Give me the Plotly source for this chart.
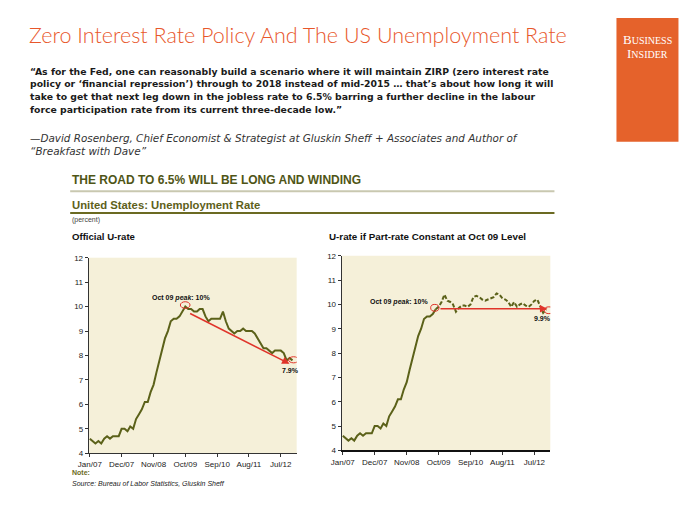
import pandas as pd
import plotly.graph_objects as go

# ---------------- data ----------------
months = pd.date_range("2007-01-01", "2012-11-01", freq="MS")

official_urate = [
    4.6, 4.5, 4.4, 4.5, 4.4, 4.6, 4.7, 4.6, 4.7, 4.7, 4.7, 5.0,   # 2007
    5.0, 4.9, 5.1, 5.0, 5.4, 5.6, 5.8, 6.1, 6.1, 6.5, 6.8, 7.3,   # 2008
    7.8, 8.3, 8.7, 9.0, 9.4, 9.5, 9.5, 9.6, 9.8, 10.0, 9.9, 9.9,  # 2009
    9.8, 9.8, 9.9, 9.9, 9.6, 9.4, 9.5, 9.5, 9.5, 9.5, 9.8, 9.4,   # 2010
    9.1, 9.0, 8.9, 9.0, 9.0, 9.1, 9.0, 9.0, 9.0, 8.9, 8.7, 8.5,   # 2011
    8.3, 8.3, 8.2, 8.1, 8.2, 8.2, 8.2, 8.1, 7.8, 7.9, 7.8,        # 2012
]

# U-rate if participation rate constant at Oct 09 level (Oct 2009 - Nov 2012)
constant_part_urate = [
    9.9, 10.1, 10.4,                                                     # 2009 Oct-Dec
    10.15, 10.1, 10.0, 9.7, 9.85, 9.95, 9.95, 9.9, 10.0, 10.3, 10.35, 10.3,  # 2010
    10.2, 10.15, 10.2, 10.25, 10.3, 10.45, 10.4, 10.25, 10.2, 10.1, 9.9, 10.1,  # 2011
    9.9, 10.0, 10.05, 9.95, 9.9, 10.0, 10.15, 10.2, 9.9, 9.65, 9.8,    # 2012
]

tick_dates = ["2007-01-01", "2007-12-01", "2008-11-01", "2009-10-01",
              "2010-09-01", "2011-08-01", "2012-07-01"]
tick_labels = ["Jan/07", "Dec/07", "Nov/08", "Oct/09", "Sep/10", "Aug/11", "Jul/12"]
y_ticks = [4, 5, 6, 7, 8, 9, 10, 11, 12]

title_text = "Zero Interest Rate Policy And The US Unemployment Rate"
quote_lines = [
    "\u201cAs for the Fed, one can reasonably build a scenario where it will maintain ZIRP (zero interest rate",
    "policy or \u2018financial repression\u2019) through to 2018 instead of mid-2015 \u2026 that\u2019s about how long it will",
    "take to get that next leg down in the jobless rate to 6.5% barring a further decline in the labour",
    "force participation rate from its current three-decade low.\u201d",
]
attribution_lines = [
    "\u2014David Rosenberg, Chief Economist & Strategist at Gluskin Sheff + Associates and Author of",
    "\u201cBreakfast with Dave\u201d",
]

# ---------------- style ----------------
W, H = 700, 525
OFF = 8  # page body margin compensation
OLIVE = "#5b6119"
RED = "#e0342a"
BG = "#f5f0d9"
ORANGE = "#e5622b"

def py(p):  # pixel y -> paper y
    return 1 - (p - OFF) / H

def px(p):
    return (p - OFF) / W

fig = go.Figure()

# left chart: official
fig.add_trace(go.Scatter(x=months, y=official_urate, mode="lines",
                         line=dict(color=OLIVE, width=2), xaxis="x", yaxis="y",
                         showlegend=False, hoverinfo="skip"))
# right chart: actual through Sep 09, then constant-participation dashed
split = 33
fig.add_trace(go.Scatter(x=months[:split], y=official_urate[:split], mode="lines",
                         line=dict(color=OLIVE, width=2), xaxis="x2", yaxis="y2",
                         showlegend=False, hoverinfo="skip"))
fig.add_trace(go.Scatter(x=months[split - 1:], y=[official_urate[split - 1]] + constant_part_urate,
                         mode="lines", line=dict(color=OLIVE, width=2, dash="4px,2px"),
                         xaxis="x2", yaxis="y2", showlegend=False, hoverinfo="skip"))

xrange = ["2006-12-20", "2012-12-15"]
axis_common = dict(showgrid=False, zeroline=False, showline=True, linecolor="#333333",
                   linewidth=1, ticks="outside", ticklen=3, tickcolor="#333333",
                   tickfont=dict(family="Liberation Sans", size=8, color="#222222"))

fig.update_layout(
    width=W, height=H, margin=dict(l=0, r=0, t=0, b=0),
    paper_bgcolor="white", plot_bgcolor=BG,
    xaxis=dict(domain=[px(78.8), px(290.1)], anchor="y", range=xrange, type="date",
               tickvals=tick_dates, ticktext=tick_labels, **axis_common),
    yaxis=dict(domain=[py(457), py(258)], anchor="x", range=[4, 12],
               tickvals=y_ticks, **axis_common),
    xaxis2=dict(domain=[px(335.8), px(547.8)], anchor="y2", range=xrange, type="date",
                tickvals=tick_dates, ticktext=tick_labels, **axis_common),
    yaxis2=dict(domain=[py(454), py(256)], anchor="x2", range=[4, 12],
                tickvals=y_ticks, **axis_common),
)
fig.update_layout(xaxis2_linewidth=1.6, xaxis2_linecolor="#111111")

shapes = []
annotations = []

# ---- annotations on charts ----
def ellipse(xref, yref, x0, x1, y0, y1):
    shapes.append(dict(type="circle", xref=xref, yref=yref, x0=x0, x1=x1, y0=y0, y1=y1,
                       line=dict(color=RED, width=1), fillcolor="rgba(0,0,0,0)"))

ann_font = dict(family="Liberation Sans", size=7, color="#111111")

# left chart
ellipse("x", "y", "2009-08-10", "2009-11-20", 9.93, 10.2)
ellipse("x", "y", "2012-09-20", "2013-01-05", 7.7, 7.95)
annotations.append(dict(xref="x", yref="y", x="2009-08-15", y=10.35,
                        text="<b>Oct 09 <i>peak</i>: 10%</b>", showarrow=False,
                        font=ann_font, xanchor="center", yanchor="middle"))
annotations.append(dict(xref="x", yref="y", x="2012-10-10", y=7.38,
                        text="<b>7.9%</b>", showarrow=False, font=ann_font,
                        xanchor="center", yanchor="middle"))
annotations.append(dict(xref="x", yref="y", axref="x", ayref="y",
                        x="2012-10-01", y=7.66, ax="2009-11-05", ay=9.75,
                        text="", showarrow=True, arrowhead=2, arrowsize=1,
                        arrowwidth=1.5, arrowcolor=RED))

# right chart
ellipse("x2", "y2", "2009-07-10", "2009-10-05", 9.72, 10.0)
ellipse("x2", "y2", "2012-10-15", "2013-01-15", 9.62, 9.9)
annotations.append(dict(xref="x2", yref="y2", x="2009-07-05", y=10.1,
                        text="<b>Oct 09 <i>peak</i>: 10%</b>", showarrow=False,
                        font=ann_font, xanchor="right", yanchor="middle"))
annotations.append(dict(xref="x2", yref="y2", x="2012-09-25", y=9.43,
                        text="<b>9.9%</b>", showarrow=False, font=ann_font,
                        xanchor="center", yanchor="middle"))
annotations.append(dict(xref="x2", yref="y2", axref="x2", ayref="y2",
                        x="2012-11-15", y=9.82, ax="2009-10-05", ay=9.82,
                        text="", showarrow=True, arrowhead=2, arrowsize=1,
                        arrowwidth=1.5, arrowcolor=RED))

# ---- page text ----
def text(x, y, s, size, color="#111111", family="Liberation Sans", anchor="left", **kw):
    annotations.append(dict(xref="paper", yref="paper", x=px(x), y=py(y), text=s,
                            showarrow=False, xanchor=anchor, yanchor="middle",
                            font=dict(family=family, size=size, color=color, **kw)))

text(16, 31, title_text, 21.5, color="#e8572b", family="Lato", weight=300)
for i, line in enumerate(quote_lines):
    text(17, 68.3 + i * 12.8, "<b>" + line + "</b>", 9.3, color="#1a1a1a", family="DejaVu Sans")
for i, line in enumerate(attribution_lines):
    text(17, 136 + i * 13.3, "<i>" + line + "</i>", 10.4, color="#333333", family="DejaVu Sans")

text(60, 179, "<b>THE ROAD TO 6.5% WILL BE LONG AND WINDING</b>", 12, color="#4f5516")
shapes.append(dict(type="line", xref="paper", yref="paper", x0=px(60), x1=px(552),
                   y0=py(190.5), y1=py(190.5), line=dict(color="#c9c8b0", width=2)))
text(60, 204, "<b>United States: Unemployment Rate</b>", 11.3, color="#5e5f1a")
shapes.append(dict(type="line", xref="paper", yref="paper", x0=px(60), x1=px(552),
                   y0=py(212.5), y1=py(212.5), line=dict(color="#6b6a22", width=2)))
text(60, 220, "(percent)", 7, color="#444444")
text(60, 236, "<b>Official U-rate</b>", 9.6, color="#111111")
text(321, 236, "<b>U-rate if Part-rate Constant at Oct 09 Level</b>", 9.8, color="#111111")
text(60, 477, "<b>Note:</b>", 7, color="#6b6a22")
text(60, 488, "<i>Source: Bureau of Labor Statistics, Gluskin Sheff</i>", 7, color="#222222")

# ---- logo ----
shapes.append(dict(type="rect", xref="paper", yref="paper", x0=px(615), x1=px(678),
                   y0=py(140), y1=py(14), fillcolor=ORANGE, line=dict(width=0)))
text(647, 36, "<span style='font-size:13px'>B</span>USINESS", 10, color="white",
     family="Liberation Serif", anchor="center")
text(647, 50, "<span style='font-size:13px'>I</span>NSIDER", 10, color="white",
     family="Liberation Serif", anchor="center")

fig.update_layout(shapes=shapes, annotations=annotations)
fig.write_html("out.html")
